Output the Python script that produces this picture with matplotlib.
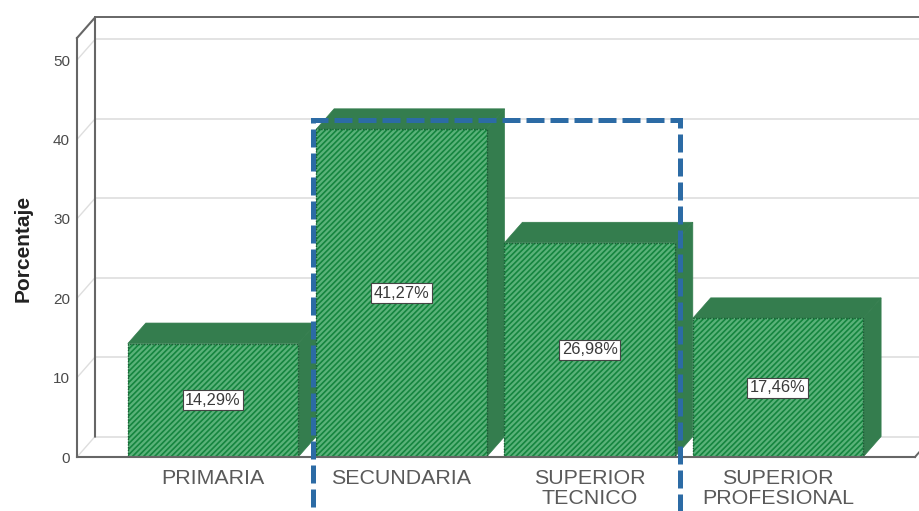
import matplotlib
matplotlib.use('Agg')
import matplotlib.pyplot as plt
import numpy as np
from matplotlib.patches import Polygon, Rectangle

plt.rcParams['font.family'] = ['Liberation Sans', 'DejaVu Sans']
plt.rcParams['hatch.linewidth'] = 1.2

categories = ['PRIMARIA', 'SECUNDARIA', 'SUPERIOR\nTECNICO', 'SUPERIOR\nPROFESIONAL']
values = [14.29, 41.27, 26.98, 17.46]
labels = ['14,29%', '41,27%', '26,98%', '17,46%']
yticks = [0, 10, 20, 30, 40, 50]

W, H = 920, 511
# front plane of the fake 3d box, in pixels
left, right, bottom, top = 77, 915, 457, 38
px_per_unit = 7.94
px_per_cat = 188.3
first_cat = 213
depth_x = 18 / px_per_cat
depth_y = 20.5 / px_per_unit

fig = plt.figure(figsize=(9.2, 5.11), dpi=100)
ax = fig.add_axes([left / W, 1 - bottom / H, (right - left) / W, (bottom - top) / H])
ax.set_xlim((left - first_cat) / px_per_cat, (right - first_cat) / px_per_cat)
ax.set_ylim(0, (bottom - top) / px_per_unit)
ymax = ax.get_ylim()[1]
x0, x1 = ax.get_xlim()

wall = '#666666'
grid = '#dedede'
# back wall and floor
for t in yticks:
    ax.plot([x0, x0 + depth_x], [t, t + depth_y], color=grid, lw=1, clip_on=False, zorder=1)
    ax.plot([x0 + depth_x, x1 + 0.1], [t + depth_y, t + depth_y], color=grid, lw=1.2, clip_on=False, zorder=1)
ax.plot([x1, x1 + depth_x], [0, depth_y], color=wall, lw=1.4, clip_on=False, zorder=1)
ax.plot([x0, x0 + depth_x, x0 + depth_x], [ymax, ymax + depth_y, depth_y], color=wall, lw=1.5, clip_on=False, zorder=2)
ax.plot([x0 + depth_x, x1 + 0.1], [ymax + depth_y, ymax + depth_y], color=wall, lw=1.4, clip_on=False, zorder=2)

# bars
bar_w = 0.905
dark = '#347d4e'
pos = np.arange(len(values))
for i, v in zip(pos, values):
    l, r = i - bar_w / 2, i + bar_w / 2
    ax.add_patch(Polygon([(l, v), (l + depth_x, v + depth_y), (r + depth_x, v + depth_y), (r, v)],
                         fc=dark, ec=dark, lw=0.5, zorder=3, clip_on=False))
    ax.add_patch(Polygon([(r, 0), (r + depth_x, depth_y), (r + depth_x, v + depth_y), (r, v)],
                         fc=dark, ec=dark, lw=0.5, zorder=3, clip_on=False))
ax.bar(pos, values, width=bar_w, color='#5ab27a', edgecolor='#15853f', hatch='//////', lw=0, zorder=4)
ax.bar(pos, values, width=bar_w, fill=False, edgecolor='#1c5c36', lw=1, ls=(0, (1, 1)), zorder=4)

for i, v, s in zip(pos, values, labels):
    ax.text(i, v / 2, s, ha='center', va='center', fontsize=11.8, color='#3a3a3a', zorder=6,
            bbox=dict(boxstyle='square,pad=0.16', fc='white', ec='#444444', lw=0.8))

ax.set_xticks(pos)
ax.set_xticklabels(categories, fontsize=15.4, color='#5a5a5a', linespacing=1.08)
ax.set_yticks(yticks)
ax.set_yticklabels(yticks, fontsize=11, color='#4a4a4a')
ax.tick_params(axis='x', length=0, pad=8.5)
ax.tick_params(axis='y', length=0, pad=5)
for s in ['top', 'right']:
    ax.spines[s].set_visible(False)
for s in ['left', 'bottom']:
    ax.spines[s].set_color(wall)
    ax.spines[s].set_linewidth(1.5)
    ax.spines[s].set_zorder(5)

ax.set_ylabel('Porcentaje', fontsize=15, fontweight='bold', color='#222222')
ax.yaxis.set_label_coords((33 - left) / (right - left), (bottom - 248) / (bottom - top))

# dashed highlight box around the two middle categories, bottom edge falls off the image
box_l = (313 - first_cat) / px_per_cat
box_r = (680 - first_cat) / px_per_cat
box_top = (bottom - 120) / px_per_unit
box_bot = (bottom - 516) / px_per_unit
ax.add_patch(Rectangle((box_l, box_bot), box_r - box_l, box_top - box_bot, fill=False, ec='#2c6ba5',
                       lw=3.6, ls=(0, (3.6, 1.2)), clip_on=False, zorder=7))

fig.savefig('out.png', dpi=100)
